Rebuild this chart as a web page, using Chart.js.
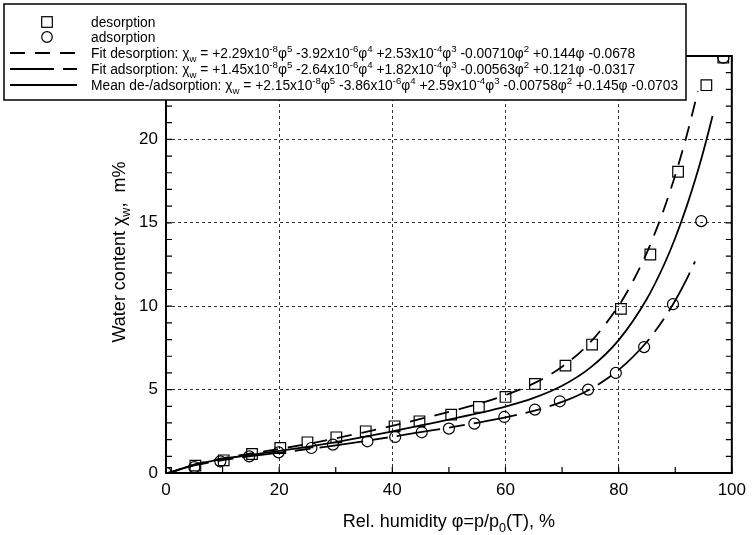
<!DOCTYPE html>
<html>
<head>
<meta charset="utf-8">
<script src="https://cdn.jsdelivr.net/npm/chart.js@4.4.1/dist/chart.umd.min.js"></script>
<style>
  html, body { margin: 0; padding: 0; background: #fff; }
  canvas { display: block; }
</style>
</head>
<body>
<canvas id="myChart" width="753" height="535"></canvas>
<script>
// measured points
const desorptionPhi = [0, 5.2, 10.2, 15.2, 20.2, 25.0, 30.1, 35.3, 40.4, 44.8, 50.4, 55.3, 60.0, 65.2, 70.6, 75.3, 80.4, 85.6, 90.5, 95.5, 98.5]
const desorptionW = [0, 0.44, 0.76, 1.14, 1.5, 1.84, 2.14, 2.5, 2.8, 3.1, 3.5, 3.96, 4.56, 5.34, 6.44, 7.7, 9.84, 13.1, 18.06, 23.25, 24.9]
const adsorptionPhi = [0, 5.0, 9.6, 14.7, 19.9, 25.7, 29.5, 35.6, 40.5, 45.2, 50.0, 54.5, 59.8, 65.2, 69.6, 74.6, 79.5, 84.5, 89.6, 94.6, 98.5]
const adsorptionW = [0, 0.35, 0.7, 1.0, 1.24, 1.5, 1.7, 1.9, 2.16, 2.44, 2.66, 2.96, 3.36, 3.8, 4.3, 5.0, 6.0, 7.55, 10.12, 15.1, 24.9]

// fit curves
const fitDesPhi = [0, 5, 10, 15, 20, 25, 30, 35, 40, 45, 50, 55, 60, 65, 70, 75, 80, 82, 85, 86, 88, 90, 92, 94]
const fitDesW = [-0.07, 0.50, 0.88, 1.17, 1.44, 1.74, 2.08, 2.44, 2.83, 3.24, 3.66, 4.12, 4.67, 5.37, 6.37, 7.84, 10.03, 11.16, 13.22, 14.03, 15.81, 17.85, 20.20, 22.88]
const fitAdsPhi = [0, 5, 10, 15, 20, 25, 30, 35, 40, 45, 50, 55, 60, 65, 70, 75, 80, 85, 88, 90, 92, 93.5]
const fitAdsW = [-0.03, 0.45, 0.77, 1.01, 1.22, 1.43, 1.66, 1.91, 2.17, 2.45, 2.72, 3.01, 3.33, 3.73, 4.26, 5.03, 6.18, 7.87, 9.25, 10.34, 11.61, 12.68]
const fitMeanPhi = [0, 5, 10, 15, 20, 25, 30, 35, 40, 45, 50, 55, 60, 65, 70, 75, 80, 85, 88, 90, 92, 94, 95, 96.6]
const fitMeanW = [-0.07, 0.50, 0.84, 1.09, 1.32, 1.57, 1.85, 2.16, 2.50, 2.85, 3.20, 3.57, 3.98, 4.50, 5.23, 6.32, 7.97, 10.45, 12.47, 14.09, 15.97, 18.12, 19.32, 21.40]

const xTicks = [0, 10, 20, 30, 40, 50, 60, 70, 80, 90, 100]
const yTicks = [0, 1, 2, 3, 4, 5, 6, 7, 8, 9, 10, 11, 12, 13, 14, 15, 16, 17, 18, 19, 20, 21, 22, 23, 24, 25]

const legendTexts = [
    'desorption',
    'adsorption',
    'Fit desorption: χ_{w} = +2.29x10^{-8}φ^{5} -3.92x10^{-6}φ^{4} +2.53x10^{-4}φ^{3} -0.00710φ^{2} +0.144φ -0.0678',
    'Fit adsorption: χ_{w} = +1.45x10^{-8}φ^{5} -2.64x10^{-6}φ^{4} +1.82x10^{-4}φ^{3} -0.00563φ^{2} +0.121φ -0.0317',
    'Mean de-/adsorption: χ_{w} = +2.15x10^{-8}φ^{5} -3.86x10^{-6}φ^{4} +2.59x10^{-4}φ^{3} -0.00758φ^{2} +0.145φ -0.0703'
]

const FONT = '"Liberation Sans", Arial, Helvetica, sans-serif'
const dashDes = [15, 10]
const dashAds = [44, 9, 16, 9]

function toXY(xs, ys) {
    return xs.map((x, i) => ({ x: x, y: ys[i] }))
}

// text with ^{..} and _{..}
function drawRich(ctx, text, x, y, size, onlyMeasure) {
    const parts = []
    let buf = ''
    let i = 0
    while (i < text.length) {
        const c = text[i]
        if ((c === '^' || c === '_') && text[i + 1] === '{') {
            if (buf) parts.push([buf, ''])
            buf = ''
            const end = text.indexOf('}', i)
            parts.push([text.slice(i + 2, end), c === '^' ? 'sup' : 'sub'])
            i = end + 1
        } else {
            buf += c
            i++
        }
    }
    if (buf) parts.push([buf, ''])
    ctx.textAlign = 'left'
    ctx.textBaseline = 'alphabetic'
    let cx = x
    parts.forEach(p => {
        const fs = p[1] ? size * 0.7 : size
        ctx.font = fs + 'px ' + FONT
        let dy = 0
        if (p[1] === 'sup') dy = -size * 0.42
        if (p[1] === 'sub') dy = size * 0.3
        if (!onlyMeasure) ctx.fillText(p[0], cx, y + dy)
        cx += ctx.measureText(p[0]).width
    })
    return cx - x
}

const framePlugin = {
    id: 'frame',
    afterDatasetsDraw(chart) {
        const ctx = chart.ctx
        const a = chart.chartArea
        const sx = chart.scales.x
        const sy = chart.scales.y
        ctx.save()
        ctx.strokeStyle = '#000'
        ctx.setLineDash([])
        // inward ticks
        ctx.lineWidth = 1.2
        ctx.beginPath()
        xTicks.forEach(v => {
            const px = sx.getPixelForValue(v)
            ctx.moveTo(px, a.bottom); ctx.lineTo(px, a.bottom - 6)
            ctx.moveTo(px, a.top); ctx.lineTo(px, a.top + 6)
        })
        yTicks.forEach(v => {
            const py = sy.getPixelForValue(v)
            ctx.moveTo(a.left, py); ctx.lineTo(a.left + 6, py)
            ctx.moveTo(a.right, py); ctx.lineTo(a.right - 6, py)
        })
        ctx.stroke()
        ctx.lineWidth = 2
        ctx.strokeRect(a.left, a.top, a.right - a.left, a.bottom - a.top)
        ctx.restore()
    },
    afterDraw(chart) {
        const ctx = chart.ctx
        const a = chart.chartArea
        ctx.save()
        ctx.fillStyle = '#000'
        // axis titles
        const tSize = 18
        let w = drawRich(ctx, 'Rel. humidity φ=p/p_{0}(T), %', 0, 0, tSize, true)
        drawRich(ctx, 'Rel. humidity φ=p/p_{0}(T), %', (a.left + a.right) / 2 - w / 2, 527, tSize)
        ctx.save()
        ctx.translate(125, 252)
        ctx.rotate(-Math.PI / 2)
        w = drawRich(ctx, 'Water content χ_{w},  m%', 0, 0, tSize, true)
        drawRich(ctx, 'Water content χ_{w},  m%', -w / 2, 0, tSize)
        ctx.restore()

        // legend box
        ctx.fillStyle = '#fff'
        ctx.fillRect(4, 4, 682, 96)
        ctx.strokeStyle = '#000'
        ctx.lineWidth = 1.5
        ctx.strokeRect(4, 4, 682, 96)
        const rows = [22, 37, 53, 69, 85]
        const lx0 = 10, lx1 = 77, mx = 47, tx = 91
        ctx.lineWidth = 1.2
        ctx.strokeRect(mx - 5.3, rows[0] - 5.3, 10.6, 10.6)
        ctx.beginPath()
        ctx.arc(mx, rows[1], 5.3, 0, Math.PI * 2)
        ctx.stroke()
        const dashes = [dashDes, dashAds, []]
        ctx.lineWidth = 1.8
        for (let k = 0; k < 3; k++) {
            ctx.setLineDash(dashes[k])
            ctx.beginPath()
            ctx.moveTo(lx0, rows[k + 2])
            ctx.lineTo(lx1, rows[k + 2])
            ctx.stroke()
        }
        ctx.setLineDash([])
        ctx.fillStyle = '#000'
        legendTexts.forEach((t, k) => {
            drawRich(ctx, t, tx, rows[k] + 4.8, 13.8)
        })
        ctx.restore()
    }
}

const datasets = [{
    label: 'desorption',
    data: toXY(desorptionPhi, desorptionW),
    pointStyle: 'rect',
    pointRadius: 7.5,
    pointBorderWidth: 1.2,
    pointBorderColor: '#000',
    pointBackgroundColor: 'rgba(0,0,0,0)',
    showLine: false,
    clip: 0
}, {
    label: 'adsorption',
    data: toXY(adsorptionPhi, adsorptionW),
    pointStyle: 'circle',
    pointRadius: 5.5,
    pointBorderWidth: 1.2,
    pointBorderColor: '#000',
    pointBackgroundColor: 'rgba(0,0,0,0)',
    showLine: false,
    clip: 0
}, {
    label: 'Fit desorption',
    data: toXY(fitDesPhi, fitDesW),
    showLine: true,
    borderColor: '#000',
    borderWidth: 1.8,
    borderDash: dashDes,
    pointRadius: 0,
    cubicInterpolationMode: 'monotone',
    clip: 0
}, {
    label: 'Fit adsorption',
    data: toXY(fitAdsPhi, fitAdsW),
    showLine: true,
    borderColor: '#000',
    borderWidth: 1.8,
    borderDash: dashAds,
    pointRadius: 0,
    cubicInterpolationMode: 'monotone',
    clip: 0
}, {
    label: 'Mean de-/adsorption',
    data: toXY(fitMeanPhi, fitMeanW),
    showLine: true,
    borderColor: '#000',
    borderWidth: 1.8,
    pointRadius: 0,
    cubicInterpolationMode: 'monotone',
    clip: 0
}]

const gridColor = (ctx, step, max) => {
    const v = ctx.tick ? ctx.tick.value : -1
    return (v % step === 0 && v > 0 && v < max) ? '#333' : 'rgba(0,0,0,0)'
}

const config = {
    type: 'scatter',
    data: { datasets: datasets },
    options: {
        responsive: false,
        animation: false,
        layout: { padding: { top: 56, right: 17, left: 0, bottom: 0 } },
        plugins: {
            legend: { display: false },
            tooltip: { enabled: false }
        },
        scales: {
            x: {
                type: 'linear',
                min: 0,
                max: 100,
                afterBuildTicks: s => { s.ticks = xTicks.map(v => ({ value: v })) },
                afterFit: s => { s.height = 62 },
                ticks: {
                    autoSkip: false,
                    maxRotation: 0,
                    padding: 7,
                    color: '#000',
                    font: { family: FONT, size: 17 },
                    callback: v => (v % 20 === 0 ? v : '')
                },
                grid: {
                    drawTicks: false,
                    lineWidth: 1,
                    color: c => gridColor(c, 20, 100)
                },
                border: { display: false, dash: [3, 3] }
            },
            y: {
                type: 'linear',
                min: 0,
                max: 25,
                afterBuildTicks: s => { s.ticks = yTicks.map(v => ({ value: v })) },
                afterFit: s => { s.width = 166 },
                ticks: {
                    autoSkip: false,
                    padding: 8,
                    color: '#000',
                    font: { family: FONT, size: 17 },
                    callback: v => (v % 5 === 0 ? v : '')
                },
                grid: {
                    drawTicks: false,
                    lineWidth: 1,
                    color: c => gridColor(c, 5, 25)
                },
                border: { display: false, dash: [3, 3] }
            }
        }
    },
    plugins: [framePlugin]
}

const myChart = new Chart(document.getElementById('myChart'), config)
</script>
</body>
</html>
